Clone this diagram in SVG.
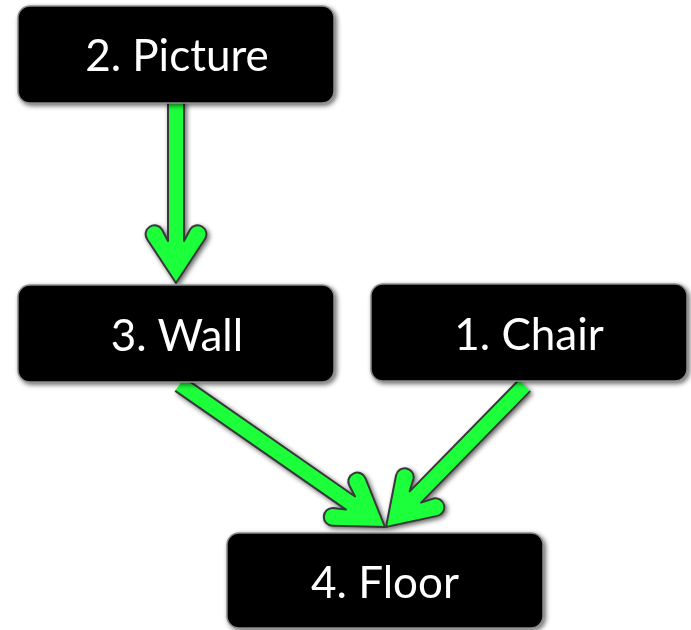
<svg xmlns="http://www.w3.org/2000/svg" width="691" height="630" viewBox="0 0 691 630">
  <defs>
    <filter id="soft" x="-20%" y="-20%" width="140%" height="140%">
      <feGaussianBlur in="SourceAlpha" stdDeviation="2.5"/>
      <feOffset dx="1.5" dy="2" result="b"/>
      <feComponentTransfer><feFuncA type="linear" slope="0.6"/></feComponentTransfer>
      <feMerge><feMergeNode/><feMergeNode in="SourceGraphic"/></feMerge>
    </filter>
    <!-- block arrow pointing down, tip at the origin; shaft extends upward -->
    <path id="head" d="M -8,-400 L -8,-42 L -14,-53.5 A 8.8 8.8 0 0 0 -29,-44 L 0,0 L 29,-44 A 8.8 8.8 0 0 0 14,-53.5 L 8,-42 L 8,-400 Z"/>
    <clipPath id="clipV"><rect x="-40" y="-182" width="80" height="200"/></clipPath>
    <clipPath id="clipL"><rect x="-40" y="-250" width="80" height="270"/></clipPath>
    <clipPath id="clipR"><rect x="-40" y="-198" width="80" height="220"/></clipPath>
  </defs>
  <style>
    .box { fill: #000; stroke: #8a8a8a; stroke-width: 1.5; }
    .lbl { fill: #fff; font-family: Lato, "Open Sans", "Liberation Sans", sans-serif; font-size: 44px; text-anchor: middle; }
    .arrow { fill: #1bff3b; stroke: #383838; stroke-width: 2; stroke-linejoin: round; }
  </style>

  <g id="connectors" filter="url(#soft)">
    <g transform="translate(176,283)">
      <use href="#head" class="arrow" clip-path="url(#clipV)"/>
    </g>
    <g transform="translate(385,527) rotate(-55.2)">
      <use href="#head" class="arrow" clip-path="url(#clipL)"/>
    </g>
    <g transform="translate(386,527) rotate(44.4)">
      <use href="#head" class="arrow" clip-path="url(#clipR)"/>
    </g>
  </g>

  <g id="picture" filter="url(#soft)">
    <rect class="box" x="18" y="6" width="316" height="97" rx="12"/>
    <text class="lbl" x="177" y="71">2. Picture</text>
  </g>
  <g id="wall" filter="url(#soft)">
    <rect class="box" x="18" y="285" width="316" height="97" rx="12"/>
    <text class="lbl" x="177" y="351">3. Wall</text>
  </g>
  <g id="chair" filter="url(#soft)">
    <rect class="box" x="371" y="284" width="316" height="97" rx="12"/>
    <text class="lbl" x="529" y="350">1. Chair</text>
  </g>
  <g id="floor" filter="url(#soft)">
    <rect class="box" x="227" y="533" width="316" height="95" rx="12"/>
    <text class="lbl" x="385" y="598">4. Floor</text>
  </g>
</svg>
